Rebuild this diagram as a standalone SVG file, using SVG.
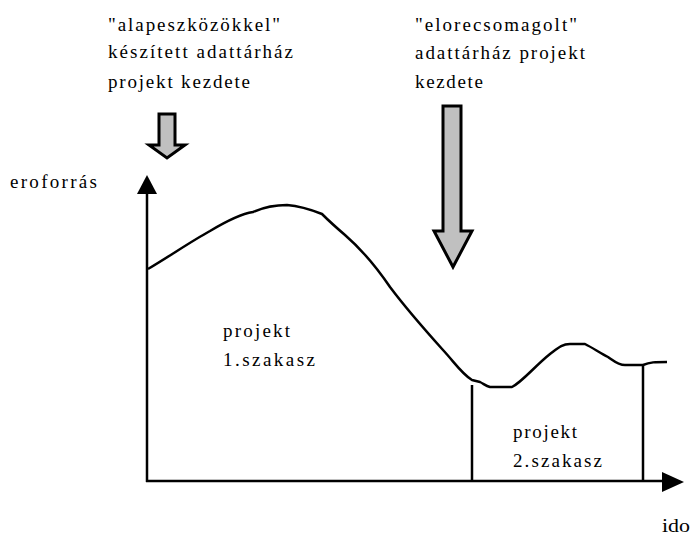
<svg xmlns="http://www.w3.org/2000/svg" width="693" height="535" viewBox="0 0 693 535">
<style>
text{font-family:'Liberation Serif','DejaVu Serif','Times New Roman',serif;font-size:19px;fill:#000}
.ln{stroke:#000;stroke-width:2.5;fill:none}
.arr{fill:#c0c0c0;stroke:#000;stroke-width:3;stroke-linejoin:miter}
</style>
<rect width="693" height="535" fill="#fff"/>
<g id="label-left">
<text x="108" y="31" textLength="172" lengthAdjust="spacing">"alapeszközökkel"</text>
<text x="108" y="58" textLength="185" lengthAdjust="spacing">készített adattárház</text>
<text x="108" y="88" textLength="142" lengthAdjust="spacing">projekt kezdete</text>
</g>
<g id="label-right">
<text x="415" y="31" textLength="162" lengthAdjust="spacing">"elorecsomagolt"</text>
<text x="415" y="59" textLength="170" lengthAdjust="spacing">adattárház projekt</text>
<text x="415" y="88" textLength="68" lengthAdjust="spacing">kezdete</text>
</g>
<g id="arrow-small">
<polygon class="arr" points="159,114 175,114 175,145 185,145 167,158 149,145 159,145"/>
</g>
<g id="arrow-big">
<polygon class="arr" points="443,106 461,106 461,231 472,231 453,267 434,231 443,231"/>
</g>
<g id="label-y"><text x="10" y="188" textLength="87" lengthAdjust="spacing">eroforrás</text></g>
<g id="label-x"><text x="662" y="532" textLength="28" lengthAdjust="spacingAndGlyphs">ido</text></g>
<g id="phase1">
<text x="223" y="337" textLength="67" lengthAdjust="spacing">projekt</text>
<text x="223" y="366" textLength="92" lengthAdjust="spacing">1.szakasz</text>
</g>
<g id="phase2">
<text x="513" y="438" textLength="64" lengthAdjust="spacing">projekt</text>
<text x="513" y="467" textLength="89" lengthAdjust="spacing">2.szakasz</text>
</g>
<g id="connectors">
<line class="ln" x1="147" y1="482" x2="147" y2="190"/>
<polygon points="147,175 137,194 157,194" fill="#000"/>
<line class="ln" x1="146" y1="481" x2="666" y2="481"/>
<polygon points="684,482 662,472 662,492" fill="#000"/>
<line class="ln" x1="472" y1="385" x2="472" y2="481"/>
<line class="ln" x1="643" y1="366" x2="643" y2="481"/>
<path class="ln" stroke-linejoin="round" d="M148,269 C170,256 190,242 210,231 C225,222 240,214 253,212 C262,208 275,205 287,205 C300,206 312,210 322,214 C330,222 338,229 345,235 C360,248 375,265 390,287 C405,307 425,330 443,350 C455,363 462,374 472,380 L480,382 C484,384 486,386 490,387 L512,387 C522,382 535,366 550,354 C558,348 562,344 570,344 L585,344 C593,348 600,353 608,357 C614,361 618,365 625,365 L643,365 C650,362 655,362 667,362"/>
</g>
</svg>
